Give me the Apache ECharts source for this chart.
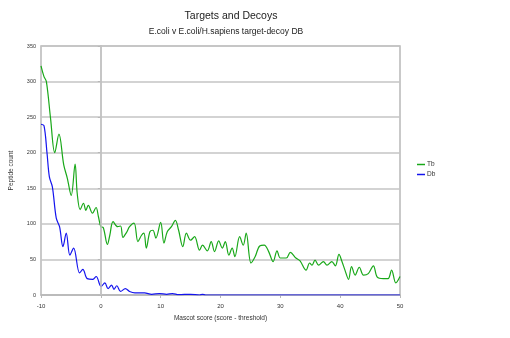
<!DOCTYPE html>
<html>
<head>
<meta charset="utf-8">
<script src="https://cdn.jsdelivr.net/npm/echarts@6/dist/echarts.min.js"></script>
<style>html,body{margin:0;padding:0;background:#fff}#c{width:510px;height:338px}</style>
</head>
<body>
<div id="c"></div>
<script>
const titleText = "Targets and Decoys";
const subtitleText = "E.coli v E.coli/H.sapiens target-decoy DB";
const xTicks = [-10, 0, 10, 20, 30, 40, 50];
const yTicks = [0, 50, 100, 150, 200, 250, 300, 350];

const targetX = [-10,-9.5,-9.1,-8.4,-7.7,-7,-6.2,-5.6,-4.95,-4.3,-3.95,-3.45,-2.9,-2.5,-2.1,-1.4,-0.8,-0.4,0,0.4,1.1,1.5,2.05,2.8,3.3,3.7,4.3,4.8,5.55,6.2,6.8,7.2,7.6,8.2,8.7,9.2,10,10.55,11.1,11.8,12.45,13,13.7,14.3,15,15.67,16.5,17,17.8,18.45,19,19.7,20.3,20.8,21.4,21.95,22.4,23.2,23.8,24.3,25.1,25.8,26.55,27.3,28.05,28.8,29.45,30,31,31.67,32.6,33.3,34.3,34.9,35.3,35.8,36.4,37.2,37.8,38.6,39.2,39.8,40.3,40.8,41.4,41.9,42.5,43.2,43.9,44.7,45.55,46.2,47.2,48,48.6,49.3,50];
const targetY = [322,307,300,248,200,226,183,164,140,184,143,120,129,119,126,115,123,110,96,95,71,84,103,96,97,81,88,96,101,75,84,87,66,89,91,80,102,73,89,96,105,91,68,87,77,82,63,70,62,75,61,76,66,75,56,66,54,82,70,87,45,54,69,70,61,47,62,52,52,60,52,48,35,45,42,49,42,47,42,47,41,57,47,35,22,40,28,39,28,30,41,25,23,23,35,17,26];

const decoyX = [-10,-9.5,-9,-8.6,-8.1,-7.45,-6.9,-6.33,-5.78,-5.17,-4.55,-3.55,-3,-2.28,-1.33,-0.78,0.05,0.67,1.2,1.8,2.2,2.67,3.3,4.1,4.8,5.7,7.3,8.5,9.8,11,12,13,15,16.5,17,17.5,20,30,40,50];
const decoyY = [240,238,200,166,152,108,96,68,87,56,66,31,36,23,22,26,12,17,9,14,8,13,5,9,5,3,3,1,2,1,2,0.5,1,0,1,0,0,0,0,0];

const pairs = (xs, ys) => xs.map((x, i) => [x, ys[i]]);

const chart = echarts.init(document.getElementById('c'), null, {renderer: 'canvas'});
const font = 'Liberation Sans, Arial, sans-serif';
chart.setOption({
  animation: false,
  backgroundColor: '#fff',
  title: [
    {text: titleText, left: 226, top: 6, textAlign: 'center',
     textStyle: {fontFamily: font, fontSize: 10.5, fontWeight: 'normal', color: '#222'}},
    {text: subtitleText, left: 221, top: 22, textAlign: 'center',
     textStyle: {fontFamily: font, fontSize: 8.5, fontWeight: 'normal', color: '#222'}}
  ],
  legend: {
    orient: 'vertical', left: 412, top: 156, itemGap: 3,
    itemWidth: 8, itemHeight: 1.5, icon: 'rect',
    textStyle: {fontFamily: font, fontSize: 6.5, color: '#333', padding: [0,0,0,-3]},
    data: ['Tb', 'Db']
  },
  grid: {left: 40, right: 110, top: 46, bottom: 43, show: true,
         borderColor: '#b8b8b8', borderWidth: 1.5, backgroundColor: '#fff'},
  xAxis: {
    type: 'value', min: -10, max: 50, interval: 10,
    name: 'Mascot score (score - threshold)', nameLocation: 'middle', nameGap: 20,
    nameTextStyle: {fontFamily: font, fontSize: 6.5, color: '#333'},
    axisLine: {show: true, onZero: false, lineStyle: {color: '#b8b8b8', width: 1.5}},
    axisTick: {show: true, length: 3, lineStyle: {color: '#b8b8b8'}},
    axisLabel: {fontFamily: font, fontSize: 6, color: '#333', margin: 8},
    splitLine: {show: false}
  },
  yAxis: {
    type: 'value', min: 0, max: 350, interval: 50,
    name: 'Peptide count', nameLocation: 'middle', nameGap: 26,
    nameTextStyle: {fontFamily: font, fontSize: 6.5, color: '#333'},
    axisLine: {show: true, lineStyle: {color: '#b8b8b8', width: 1.5}},
    axisTick: {show: true, length: 3, lineStyle: {color: '#b8b8b8'}},
    axisLabel: {fontFamily: font, fontSize: 5.5, color: '#333', margin: 5},
    splitLine: {show: true, lineStyle: {color: '#c4c4c4', width: 1.5}}
  },
  series: [
    {name: 'Tb', type: 'line', data: pairs(targetX, targetY), smooth: 0.35,
     showSymbol: false, color: '#19a819', lineStyle: {width: 1.2},
     markLine: {silent: true, symbol: 'none', label: {show: false},
       lineStyle: {color: '#c4c4c4', width: 1.5, type: 'solid'}, data: [{xAxis: 0}]},
     z: 3},
    {name: 'Db', type: 'line', data: pairs(decoyX, decoyY), smooth: 0.35,
     showSymbol: false, color: '#1414ee', lineStyle: {width: 1.2}, z: 4}
  ]
});
</script>
</body>
</html>
